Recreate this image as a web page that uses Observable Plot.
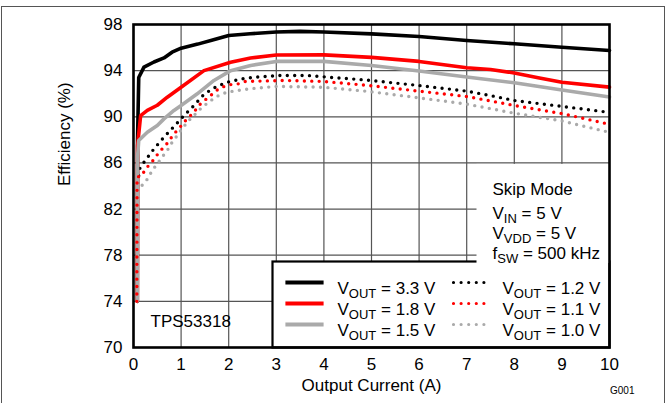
<!DOCTYPE html>
<html>
<head>
<meta charset="utf-8">
<script src="https://cdn.jsdelivr.net/npm/d3@7"></script>
<script src="https://cdn.jsdelivr.net/npm/@observablehq/plot@0.6"></script>
<style>
  html, body { margin: 0; padding: 0; background: #fff; }
</style>
</head>
<body>
<div id="wrap"></div>
<script>
// ---- data ----
const xTicks = [0, 1, 2, 3, 4, 5, 6, 7, 8, 9, 10];
const yTicks = [70, 74, 78, 82, 86, 90, 94, 98];

const seriesLabels = ["3.3", "1.8", "1.5", "1.2", "1.1", "1.0"];
const seriesColors = ["#000000", "#ff0000", "#aaaaaa", "#000000", "#ff0000", "#aaaaaa"];
const seriesDotted = [false, false, false, true, true, true];
const conditions = ["Skip Mode", "V_IN = 5 V", "V_VDD = 5 V", "f_SW = 500 kHz"];
const partName = "TPS53318";
const xLabel = "Output Current (A)";
const yLabel = "Efficiency (%)";
const figId = "G001";

const i33 = [0.08, 0.085, 0.11, 0.22, 0.43, 0.64, 0.81, 1.0, 1.35, 1.7, 2.0, 2.45, 3.0, 3.5, 4.0, 5.0, 6.0, 7.0, 8.0, 9.0, 10];
const e33 = [74, 88, 93.4, 94.3, 94.75, 95.1, 95.6, 95.95, 96.3, 96.7, 97.05, 97.2, 97.35, 97.4, 97.35, 97.19, 96.96, 96.62, 96.33, 96.03, 95.75];

const i18 = [0.08, 0.085, 0.15, 0.29, 0.5, 0.71, 1.0, 1.48, 2.04, 2.46, 3.0, 4.0, 5.0, 6.0, 7.0, 7.5, 8.0, 8.5, 9.0, 10];
const e18 = [74, 87.5, 90.1, 90.55, 91.0, 91.7, 92.56, 94.0, 94.73, 95.1, 95.35, 95.37, 95.15, 94.8, 94.25, 94.1, 93.8, 93.38, 93.0, 92.57];

const i15 = [0.08, 0.085, 0.11, 0.29, 0.5, 0.64, 0.85, 1.0, 1.34, 1.69, 2.04, 2.46, 3.0, 4.0, 5.0, 6.0, 7.0, 8.0, 9.0, 10];
const e15 = [74, 86.5, 87.94, 88.66, 89.24, 89.82, 90.55, 90.98, 91.99, 93.15, 94.0, 94.45, 94.8, 94.8, 94.45, 93.97, 93.45, 92.95, 92.32, 91.72];

const i12 = [0.08, 0.085, 0.13, 0.22, 0.43, 0.64, 0.85, 1.06, 1.27, 1.49, 1.72, 1.97, 2.28, 2.6, 3.1, 3.65, 4.1, 4.85, 6.0, 7.0, 7.5, 8.0, 9.0, 10];
const e12 = [74, 84.2, 85.5, 86.06, 87.22, 88.23, 89.16, 90.1, 90.98, 91.99, 92.56, 93.0, 93.29, 93.45, 93.58, 93.58, 93.43, 93.2, 92.71, 92.22, 91.84, 91.41, 90.9, 90.38];

const i11 = [0.07, 0.075, 0.18, 0.25, 0.36, 0.46, 0.57, 0.67, 0.76, 0.85, 0.95, 1.06, 1.16, 1.27, 1.37, 1.49, 1.62, 1.74, 1.86, 2.0, 2.21, 2.35, 3.15, 4.0, 4.95, 6.0, 7.0, 8.0, 9.0, 10];
const e11 = [74, 84.77, 84.9, 85.5, 85.92, 86.5, 87.08, 87.5, 88.0, 88.52, 88.96, 89.53, 89.96, 90.4, 90.98, 91.41, 91.84, 92.28, 92.56, 92.77, 92.86, 93.06, 93.15, 93.06, 92.71, 92.22, 91.76, 90.98, 90.28, 89.35];

const i10 = [0.08, 0.085, 0.22, 0.32, 0.39, 0.5, 0.6, 0.71, 0.79, 0.92, 1.02, 1.13, 1.23, 1.34, 1.44, 1.58, 1.70, 1.83, 1.97, 2.18, 2.5, 3.0, 4.0, 4.95, 6.0, 7.0, 8.0, 9.0, 10];
const e10 = [74, 83.76, 84.19, 84.77, 85.34, 85.92, 86.5, 87.08, 87.66, 88.38, 88.96, 89.53, 89.96, 90.4, 90.83, 91.26, 91.64, 91.93, 92.13, 92.28, 92.45, 92.63, 92.56, 92.19, 91.64, 91.1, 90.31, 89.64, 88.65];

const seriesX = [i33, i18, i15, i12, i11, i10];
const seriesY = [e33, e18, e15, e12, e11, e10];

const rows = [];
seriesX.forEach((xs, k) => xs.forEach((x, j) => rows.push({ s: k, x, y: seriesY[k][j] })));

// grid built from the tick arrays and the axis extents
const xExt = [xTicks[0], xTicks[xTicks.length - 1]];
const yExt = [yTicks[0], yTicks[yTicks.length - 1]];
const gridRows = [
  ...xTicks.flatMap(t => yExt.map(v => ({ g: "x" + t, x: t, y: v }))),
  ...yTicks.flatMap(t => xExt.map(v => ({ g: "y" + t, x: v, y: t })))
];

const font = '"Liberation Sans", Arial, Helvetica, sans-serif';

function seriesLine(k) {
  return Plot.line(rows.filter(d => d.s === k), seriesDotted[k]
    ? { x: "x", y: "y", stroke: seriesColors[k], strokeWidth: 3.4, strokeLinecap: "round", strokeDasharray: "0 7.4" }
    : { x: "x", y: "y", stroke: seriesColors[k], strokeWidth: 3.6 });
}
const drawOrder = [0, 1, 3, 5, 2, 4];

// legend layout (pixel offsets from the plot frame's top-left)
const legRowDy = [258, 279, 300];
const legendMarks = [];
for (let k = 0; k < 6; k++) {
  const col = k < 3 ? 0 : 1;
  const r = k % 3;
  legendMarks.push(Plot.frame({
    anchor: "top",
    insetLeft: col === 0 ? 154 : 320,
    insetRight: col === 0 ? 288 : 124,
    insetTop: legRowDy[r],
    stroke: seriesColors[k],
    strokeWidth: seriesDotted[k] ? 3.2 : 4.2,
    ...(seriesDotted[k] ? { strokeDasharray: "0 7.6", strokeLinecap: "round" } : {})
  }));
  legendMarks.push(Plot.text(["V_OUT = " + seriesLabels[k] + " V"], {
    frameAnchor: "top-left", textAnchor: "start",
    dx: col === 0 ? 204 : 369, dy: legRowDy[r] - 0.4, fontSize: 17
  }));
}
const condDy = [158.6, 182.4, 202.8, 222.8];
const condMarks = conditions.map((c, k) => Plot.text([c], {
  frameAnchor: "top-left", textAnchor: "start", dx: 359, dy: condDy[k], fontSize: 17
}));

const chart = Plot.plot({
  width: 668,
  height: 403,
  marginLeft: 133,
  marginRight: 59,
  marginTop: 24,
  marginBottom: 56,
  style: { fontFamily: font, fontSize: "17px", color: "#000", background: "#fff" },
  x: { domain: xExt },
  y: { domain: yExt },
  marks: [
    // outer page border
    Plot.frame({ stroke: "#555", strokeWidth: 1, insetLeft: -132, insetTop: -18, insetRight: -55, insetBottom: -80 }),
    Plot.line(gridRows, { x: "x", y: "y", z: "g", stroke: "#555", strokeWidth: 1.2 }),
    ...drawOrder.map(seriesLine),
    // legend box
    Plot.frame({ fill: "#fff", stroke: "#000", strokeWidth: 2.2, insetLeft: 139, insetTop: 237 }),
    // conditions box (white, no border)
    Plot.frame({ fill: "#fff", stroke: "none", insetLeft: 343, insetTop: 139.4, insetBottom: 84.5 }),
    ...legendMarks,
    ...condMarks,
    Plot.frame({ stroke: "#000", strokeWidth: 2.6 }),
    Plot.axisX(xTicks, { tickSize: 0, tickPadding: 10, label: null, fontSize: 17 }),
    Plot.axisY(yTicks, { tickSize: 0, tickPadding: 11, label: null, fontSize: 17 }),
    Plot.text([xLabel], { frameAnchor: "bottom", dy: 43, fontSize: 17 }),
    Plot.text([yLabel], { frameAnchor: "left", rotate: -90, dx: -69, fontSize: 17 }),
    Plot.text([partName], { frameAnchor: "bottom-left", textAnchor: "start", dx: 17, dy: -21, fontSize: 17 }),
    Plot.text([figId], { frameAnchor: "bottom-right", textAnchor: "end", dx: 25, dy: 46, fontSize: 10 })
  ]
});

// turn "A_SUB rest" into text with a subscript
chart.querySelectorAll("text").forEach(t => {
  const s = t.textContent;
  const m = /^(\w)_([A-Z]+)(.*)$/.exec(s);
  if (!m) return;
  while (t.firstChild) t.removeChild(t.firstChild);
  const ns = "http://www.w3.org/2000/svg";
  const a = document.createElementNS(ns, "tspan"); a.textContent = m[1];
  const b = document.createElementNS(ns, "tspan"); b.textContent = m[2];
  b.setAttribute("font-size", "13"); b.setAttribute("dy", "4");
  const c = document.createElementNS(ns, "tspan"); c.textContent = m[3];
  c.setAttribute("dy", "-4");
  t.appendChild(a); t.appendChild(b); t.appendChild(c);
});

document.getElementById("wrap").appendChild(chart);
</script>
</body>
</html>
